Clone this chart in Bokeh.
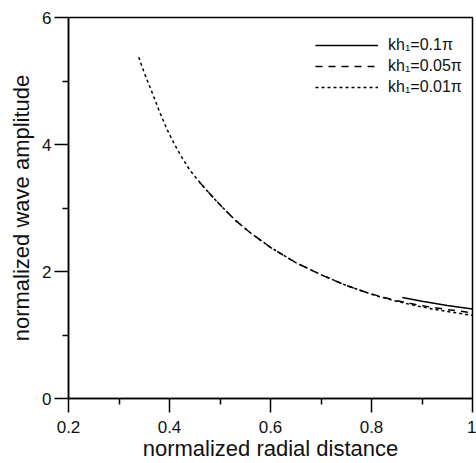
from bokeh.plotting import figure
from bokeh.models import Range1d, FixedTicker, CustomJSTickFormatter, Legend, LegendItem
from bokeh.embed import file_html
from bokeh.resources import INLINE

# kh1 = 0.01 pi (dotted)
x_001 = [0.339, 0.35, 0.366, 0.38, 0.395, 0.41, 0.425, 0.44, 0.455, 0.47, 0.50, 0.53,
         0.56, 0.60, 0.65, 0.70, 0.75, 0.80, 0.85, 0.90, 0.95, 1.00]
y_001 = [5.375, 5.13, 4.81, 4.52, 4.24, 4.00, 3.79, 3.60, 3.45, 3.31, 3.05, 2.81,
         2.61, 2.38, 2.14, 1.95, 1.78, 1.64, 1.53, 1.44, 1.37, 1.31]

# kh1 = 0.05 pi (dashed)
x_005 = [0.46, 0.47, 0.50, 0.53, 0.56, 0.60, 0.65, 0.70, 0.75, 0.80, 0.85, 0.90, 0.95, 1.00]
y_005 = [3.40, 3.31, 3.05, 2.81, 2.61, 2.38, 2.14, 1.95, 1.78, 1.645, 1.54, 1.46, 1.40, 1.35]

# kh1 = 0.1 pi (solid)
x_01 = [0.861, 0.90, 0.95, 1.00]
y_01 = [1.59, 1.53, 1.465, 1.41]

x_ticks = [0.2, 0.4, 0.6, 0.8, 1.0]
x_minor = [0.3, 0.5, 0.7, 0.9]
y_ticks = [0, 2, 4, 6]
y_minor = [1, 3, 5]

labels = ["kh\u2081=0.1\u03c0", "kh\u2081=0.05\u03c0", "kh\u2081=0.01\u03c0"]

FONT = "Liberation Sans"
TXT = "#111111"

p = figure(width=476, height=463, output_backend="svg", toolbar_location=None,
           x_range=Range1d(0.2, 1.0), y_range=Range1d(0, 6),
           min_border_left=68, min_border_right=4, min_border_top=17, min_border_bottom=60)
p.xgrid.visible = False
p.ygrid.visible = False
p.outline_line_color = "black"
p.outline_line_width = 1.5
p.background_fill_color = "white"
p.border_fill_color = "white"

r1 = p.line(x_01, y_01, line_color="black", line_width=1.5)
r2 = p.line(x_005, y_005, line_color="black", line_width=1.5, line_dash="7 6")
r3 = p.line(x_001, y_001, line_color="black", line_width=1.5, line_dash="3 3")

fmt = CustomJSTickFormatter(code="return tick.toFixed(1).replace(/\\.0$/, '');")

for ax, major, minor in ((p.xaxis[0], x_ticks, x_minor), (p.yaxis[0], y_ticks, y_minor)):
    ax.ticker = FixedTicker(ticks=major, minor_ticks=minor)
    ax.formatter = fmt
    ax.axis_line_width = 1.5
    ax.axis_line_color = "black"
    ax.major_tick_line_width = 1.5
    ax.minor_tick_line_width = 1.5
    ax.major_tick_in = 0
    ax.minor_tick_in = 0
    ax.major_tick_out = 14
    ax.minor_tick_out = 6
    ax.major_label_text_font = FONT
    ax.major_label_text_font_size = "17px"
    ax.major_label_text_color = TXT
    ax.axis_label_text_font = FONT
    ax.axis_label_text_font_size = "22px"
    ax.axis_label_text_font_style = "normal"
    ax.axis_label_text_color = TXT

p.xaxis.axis_label = "normalized radial distance"
p.yaxis.axis_label = "normalized wave amplitude"
p.xaxis.major_label_standoff = 8
p.yaxis.major_label_standoff = 3
p.xaxis.axis_label_standoff = 0
p.yaxis.axis_label_standoff = 5

legend = Legend(items=[LegendItem(label=labels[0], renderers=[r1]),
                       LegendItem(label=labels[1], renderers=[r2]),
                       LegendItem(label=labels[2], renderers=[r3])],
                location=(247, 301))
legend.border_line_color = None
legend.background_fill_alpha = 0
legend.glyph_width = 63
legend.glyph_height = 20
legend.label_standoff = 10
legend.spacing = 1
legend.padding = 0
legend.margin = 0
legend.label_text_font = FONT
legend.label_text_font_size = "16px"
legend.label_text_color = TXT
p.add_layout(legend)

open("out.html", "w").write(file_html(p, INLINE))
